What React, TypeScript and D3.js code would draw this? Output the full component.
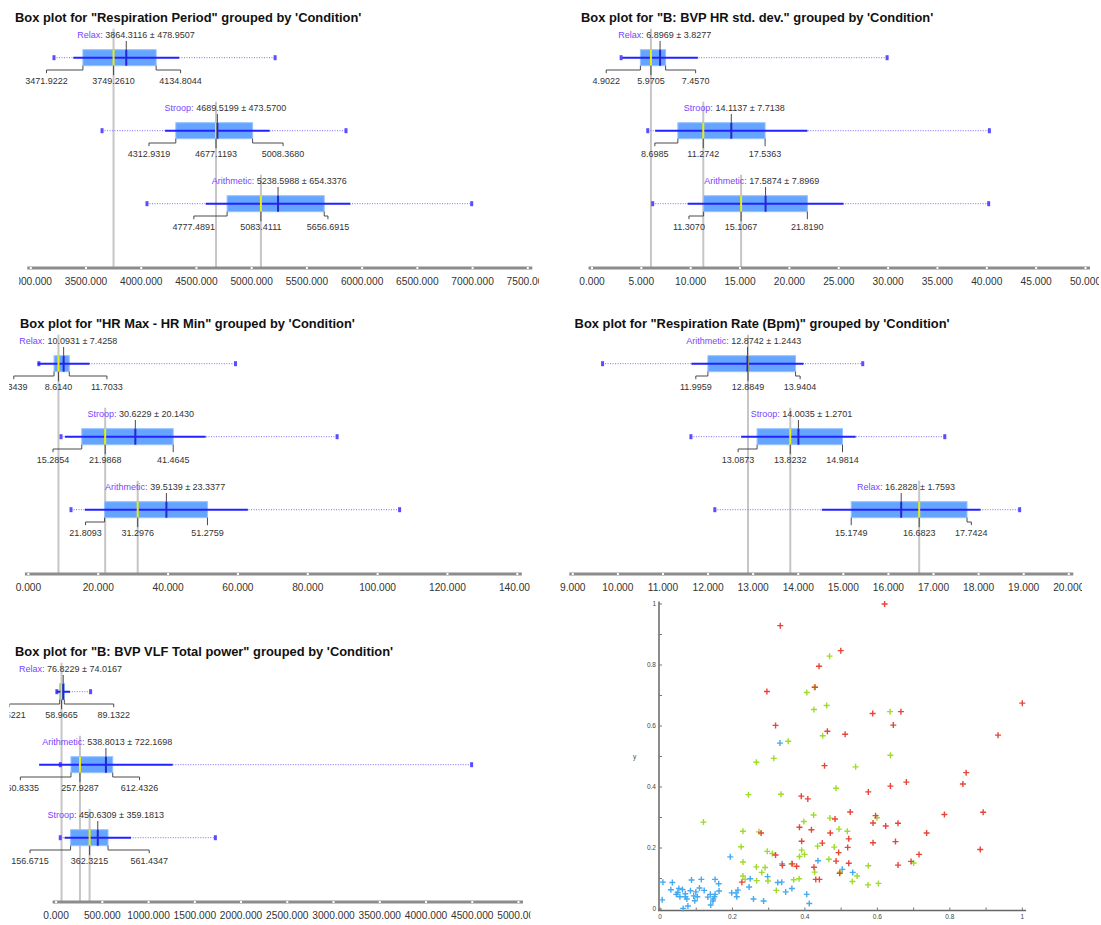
import * as d3 from "d3";

const FONT = "'Liberation Sans', Arial, sans-serif";

// ---------- "Respiration Period" ----------
const periodGroups = ["Relax", "Stroop", "Arithmetic"];
// min, q1, median, q3, max
const periodFive = [
  [3210, 3471.9222, 3749.261, 4134.8044, 5212],
  [3645, 4312.9319, 4677.1193, 5008.368, 5854],
  [4052, 4777.4891, 5083.4111, 5656.6915, 6992],
];
const periodMean = [3864.3116, 4689.5199, 5238.5988];
const periodSd = [478.9507, 473.57, 654.3376];
const periodTicks = [3000, 3500, 4000, 4500, 5000, 5500, 6000, 6500, 7000, 7500];

// ---------- "B: BVP HR std. dev." ----------
const hrSdGroups = ["Relax", "Stroop", "Arithmetic"];
const hrSdFive = [
  [2.95, 4.9022, 5.9705, 7.457, 29.9],
  [5.65, 8.6985, 11.2742, 17.5363, 40.26],
  [6.15, 11.307, 15.1067, 21.819, 40.19],
];
const hrSdMean = [6.8969, 14.1137, 17.5874];
const hrSdSd = [3.8277, 7.7138, 7.8969];
const hrSdTicks = [0, 5, 10, 15, 20, 25, 30, 35, 40, 45, 50];

// ---------- "HR Max - HR Min" ----------
const hrRangeGroups = ["Relax", "Stroop", "Arithmetic"];
const hrRangeFive = [
  [3.0, 7.3439, 8.614, 11.7033, 59.3],
  [9.35, 15.2854, 21.9868, 41.4645, 88.4],
  [12.2, 21.8093, 31.2976, 51.2759, 106.3],
];
const hrRangeMean = [10.0931, 30.6229, 39.5139];
const hrRangeSd = [7.4258, 20.143, 23.3377];
const hrRangeTicks = [0, 20, 40, 60, 80, 100, 120, 140];

// ---------- "Respiration Rate (Bpm)" ----------
const rateGroups = ["Arithmetic", "Stroop", "Relax"];
const rateFive = [
  [9.66, 11.9959, 12.8849, 13.9404, 15.43],
  [11.62, 13.0873, 13.8232, 14.9814, 17.25],
  [12.15, 15.1749, 16.6823, 17.7424, 18.91],
];
const rateMean = [12.8742, 14.0035, 16.2828];
const rateSd = [1.2443, 1.2701, 1.7593];
const rateTicks = [9, 10, 11, 12, 13, 14, 15, 16, 17, 18, 19, 20];

// ---------- "B: BVP VLF Total power" ----------
const vlfGroups = ["Relax", "Arithmetic", "Stroop"];
const vlfFive = [
  [8, 38.5221, 58.9665, 89.1322, 373],
  [45.6, 160.8335, 257.9287, 612.4326, 4493],
  [45, 156.6715, 362.3215, 561.4347, 1722],
];
const vlfMean = [76.8229, 538.8013, 450.6309];
const vlfSd = [74.0167, 722.1698, 359.1813];
const vlfTicks = [0, 500, 1000, 1500, 2000, 2500, 3000, 3500, 4000, 4500, 5000];

// ---------- scatter (x, y) ----------
const scatterBlue: [number, number][] = [
  [0.331, 0.544], [0.194, 0.171], [0.436, 0.158], [0.337, 0.148], [0.503, 0.13],
  [0.532, 0.12], [0.297, 0.106], [0.249, 0.099], [0.325, 0.087], [0.336, 0.088],
  [0.008, 0.088], [0.034, 0.087], [0.087, 0.095], [0.114, 0.097], [0.152, 0.097],
  [0.162, 0.083], [0.246, 0.072], [0.03, 0.063], [0.052, 0.067], [0.062, 0.064],
  [0.084, 0.06], [0.109, 0.069], [0.122, 0.061], [0.099, 0.056], [0.049, 0.054],
  [0.07, 0.05], [0.055, 0.04], [0.07, 0.04], [0.074, 0.033], [0.093, 0.043],
  [0.103, 0.04], [0.132, 0.039], [0.139, 0.048], [0.163, 0.059], [0.152, 0.048],
  [0.15, 0.04], [0.147, 0.033], [0.146, 0.026], [0.14, 0.013], [0.096, 0.027],
  [0.077, 0.01], [0.064, 0.002], [0.006, 0.03], [0.198, 0.053], [0.21, 0.053],
  [0.215, 0.062], [0.212, 0.04], [0.258, 0.033], [0.286, 0.026], [0.347, 0.056],
  [0.364, 0.067], [0.405, 0.048], [0.412, 0.018], [0.045, 0.048],
];
const scatterGreen: [number, number][] = [
  [0.468, 0.829], [0.426, 0.727], [0.405, 0.71], [0.425, 0.654], [0.46, 0.667],
  [0.635, 0.647], [0.449, 0.568], [0.354, 0.55], [0.636, 0.504], [0.314, 0.494],
  [0.266, 0.481], [0.54, 0.466], [0.486, 0.396], [0.244, 0.375], [0.334, 0.376],
  [0.424, 0.308], [0.469, 0.298], [0.599, 0.299], [0.397, 0.287], [0.12, 0.285],
  [0.494, 0.262], [0.517, 0.255], [0.229, 0.255], [0.273, 0.253], [0.435, 0.206],
  [0.224, 0.204], [0.481, 0.203], [0.296, 0.189], [0.31, 0.182], [0.391, 0.193],
  [0.399, 0.179], [0.385, 0.172], [0.229, 0.154], [0.466, 0.163], [0.575, 0.142],
  [0.7, 0.151], [0.363, 0.148], [0.266, 0.138], [0.29, 0.136], [0.281, 0.12],
  [0.427, 0.121], [0.229, 0.108], [0.235, 0.097], [0.544, 0.108], [0.384, 0.099],
  [0.369, 0.096], [0.298, 0.092], [0.267, 0.093], [0.531, 0.09], [0.603, 0.084],
  [0.574, 0.079], [0.321, 0.061], [0.497, 0.121],
];
const scatterRed: [number, number][] = [
  [0.62, 1.0], [0.332, 0.929], [0.499, 0.847], [0.439, 0.796], [0.428, 0.727],
  [0.295, 0.713], [1.0, 0.675], [0.587, 0.641], [0.665, 0.647], [0.319, 0.602],
  [0.644, 0.603], [0.462, 0.583], [0.511, 0.573], [0.933, 0.57], [0.454, 0.47],
  [0.845, 0.447], [0.68, 0.416], [0.836, 0.41], [0.636, 0.403], [0.575, 0.384],
  [0.39, 0.37], [0.408, 0.361], [0.525, 0.318], [0.892, 0.317], [0.785, 0.31],
  [0.595, 0.306], [0.483, 0.295], [0.588, 0.282], [0.623, 0.272], [0.657, 0.281],
  [0.385, 0.268], [0.418, 0.26], [0.47, 0.249], [0.279, 0.249], [0.736, 0.249],
  [0.521, 0.23], [0.391, 0.222], [0.448, 0.216], [0.588, 0.217], [0.65, 0.221],
  [0.518, 0.202], [0.884, 0.195], [0.493, 0.185], [0.319, 0.177], [0.715, 0.179],
  [0.486, 0.157], [0.693, 0.156], [0.365, 0.148], [0.521, 0.15], [0.338, 0.143],
  [0.377, 0.14], [0.657, 0.144], [0.425, 0.137], [0.496, 0.117], [0.43, 0.097],
  [0.44, 0.097], [0.226, 0.088],
];
const scatterTicks = [0, 0.2, 0.4, 0.6, 0.8, 1];

const panels = [
  { id: "period", title: "Box plot for \"Respiration Period\" grouped by 'Condition'", groups: periodGroups, five: periodFive, means: periodMean, sds: periodSd, ticks: periodTicks },
  { id: "hrsd", title: "Box plot for \"B: BVP HR std. dev.\" grouped by 'Condition'", groups: hrSdGroups, five: hrSdFive, means: hrSdMean, sds: hrSdSd, ticks: hrSdTicks },
  { id: "hrrange", title: "Box plot for \"HR Max - HR Min\" grouped by 'Condition'", groups: hrRangeGroups, five: hrRangeFive, means: hrRangeMean, sds: hrRangeSd, ticks: hrRangeTicks },
  { id: "rate", title: "Box plot for \"Respiration Rate (Bpm)\" grouped by 'Condition'", groups: rateGroups, five: rateFive, means: rateMean, sds: rateSd, ticks: rateTicks },
  { id: "vlf", title: "Box plot for \"B: BVP VLF Total power\" grouped by 'Condition'", groups: vlfGroups, five: vlfFive, means: vlfMean, sds: vlfSd, ticks: vlfTicks },
];

// where each panel sits on the page
const layout: Record<string, { x0: number; x1: number; top: number; titleX: number; clip: [number, number] }> = {
  period: { x0: 30.8, x1: 527.8, top: 0, titleX: 15, clip: [19, 539] },
  hrsd: { x0: 592, x1: 1085.5, top: 0, titleX: 581, clip: [562, 1099] },
  hrrange: { x0: 28.4, x1: 517.3, top: 306, titleX: 20, clip: [9, 530] },
  rate: { x0: 572.8, x1: 1068.8, top: 306, titleX: 574.6, clip: [556, 1082] },
  vlf: { x0: 56.1, x1: 518.5, top: 634, titleX: 15, clip: [9.5, 530.5] },
};

const LABEL = 9;
const TICK = 10.2;
const CHAR = 7.45; // spacing unit the original uses to push quartile labels apart

let ctx: CanvasRenderingContext2D | null = null;
function textWidth(s: string, size: number) {
  if (!ctx) ctx = document.createElement("canvas").getContext("2d");
  if (!ctx) return s.length * size * 0.55;
  ctx.font = `${size}px 'Liberation Sans', Arial, sans-serif`;
  return ctx.measureText(s).width;
}

const f4 = d3.format(".4f");
const f3 = d3.format(".3f");

function BoxRow({ x, y, name, s, mean, sd }: any) {
  const [mn, q1, md, q3, mx] = s;
  const labs = [f4(q1), f4(md), f4(q3)];
  const mdX = x(md);
  const q1LX = Math.min(x(q1), mdX - (CHAR / 2) * (labs[0].length + labs[1].length));
  const q3LX = Math.max(x(q3), mdX + (CHAR / 2) * (labs[1].length + labs[2].length));
  const prefix = `${name}:`;
  const meanTxt = f4(mean);
  const startX = x(mean) - textWidth(meanTxt, LABEL) / 2 - textWidth(prefix + " ", LABEL);
  const yb = y + 8;

  return (
    <g>
      {/* min-max range */}
      <line x1={x(mn)} x2={x(mx)} y1={y} y2={y} stroke="#7d6bff" strokeWidth={1} strokeDasharray="1 1.5" />
      <rect x={x(mn) - 1.5} y={y - 2.5} width={3} height={5} fill="#5a4cff" />
      <rect x={x(mx) - 1.5} y={y - 2.5} width={3} height={5} fill="#5a4cff" />

      {/* box */}
      <rect x={x(q1)} y={y - 8} width={x(q3) - x(q1)} height={16} fill="#66a5ff" stroke="#96c2ff" strokeWidth={1} />

      {/* mean +- sd */}
      <line x1={x(mean - sd)} x2={x(mean + sd)} y1={y} y2={y} stroke="#2323ff" strokeWidth={2} />

      <line x1={mdX} x2={mdX} y1={y - 8} y2={y + 8} stroke="#eeee00" strokeWidth={2} />
      <line x1={x(mean)} x2={x(mean)} y1={y - 8} y2={y + 8} stroke="#2626d0" strokeWidth={2} />

      {/* connectors */}
      <line x1={x(mean)} x2={x(mean)} y1={y - 16.7} y2={y - 8} stroke="#4a4a4a" />
      <line x1={mdX} x2={mdX} y1={yb} y2={y + 17.5} stroke="#4a4a4a" />
      <path d={`M${x(q1)},${yb}V${yb + 4.3}H${q1LX}V${yb + 7.5}`} fill="none" stroke="#4a4a4a" />
      <path d={`M${x(q3)},${yb}V${yb + 4.3}H${q3LX}V${yb + 7.5}`} fill="none" stroke="#4a4a4a" />

      {/* labels */}
      <text x={startX} y={y - 19.5} fontSize={LABEL} style={{ whiteSpace: "pre" }}>
        <tspan fill="#7744ff">{prefix}</tspan>
        <tspan fill="#333">{` ${meanTxt} ± ${f4(sd)}`}</tspan>
      </text>
      {[q1LX, mdX, q3LX].map((lx, i) => (
        <text key={i} x={lx} y={y + 26.6} fontSize={LABEL} textAnchor="middle" fill="#333">
          {labs[i]}
        </text>
      ))}
    </g>
  );
}

function BoxPanel({ p }: any) {
  const lay = layout[p.id];
  const ticks: number[] = p.ticks;
  const x = d3.scaleLinear().domain([ticks[0], ticks[ticks.length - 1]]).range([lay.x0, lay.x1]);
  const top = lay.top;
  const axisY = top + 268;
  const rowY = (i: number) => top + 57.7 + 73 * i;

  return (
    <g>
      <defs>
        <clipPath id={`clip-${p.id}`}>
          <rect x={lay.clip[0]} y={top + 24} width={lay.clip[1] - lay.clip[0]} height={275} />
        </clipPath>
      </defs>
      <text x={lay.titleX} y={top + 21.5} fontSize={12.9} fontWeight="bold" fill="#111">
        {p.title}
      </text>
      <g clipPath={`url(#clip-${p.id})`}>
        {p.five.map((s: number[], i: number) => (
          <line key={i} x1={x(s[2])} x2={x(s[2])} y1={rowY(i) - 29} y2={axisY} stroke="#c6c6c6" strokeWidth={2} />
        ))}

        {/* axis */}
        <line x1={x(ticks[0]) - 3.5} x2={x(ticks[ticks.length - 1]) + 4.5} y1={axisY} y2={axisY} stroke="#8c8c8c" strokeWidth={3} />
        {ticks.map((t) => (
          <rect key={t} x={x(t) - 1} y={axisY - 1} width={2} height={2} fill="#fff" />
        ))}
        {ticks.map((t) => (
          <text key={t} x={x(t)} y={axisY + 16.9} fontSize={TICK} textAnchor="middle" fill="#333">
            {f3(t)}
          </text>
        ))}

        {p.groups.map((g: string, i: number) => (
          <BoxRow key={g} x={x} y={rowY(i)} name={g} s={p.five[i]} mean={p.means[i]} sd={p.sds[i]} />
        ))}
      </g>
    </g>
  );
}

function Scatter() {
  const x = d3.scaleLinear().domain([0, 1]).range([660, 1022.3]);
  const y = d3.scaleLinear().domain([0, 1]).range([909, 604]);
  const minor = d3.range(0, 1.0001, 0.1);
  const series: [string, [number, number][]][] = [
    ["#46aaf0", scatterBlue],
    ["#9edb2c", scatterGreen],
    ["#e8453a", scatterRed],
  ];
  const fmt = (t: number) => (t === 0 || t === 1 ? String(t) : d3.format(".1f")(t));

  return (
    <g>
      <line x1={659} x2={659} y1={601.5} y2={911} stroke="#666" strokeWidth={1.5} />
      <line x1={658} x2={1026} y1={910.5} y2={910.5} stroke="#666" strokeWidth={1.5} />
      {minor.map((t, i) => (
        <g key={i}>
          <line x1={659} x2={662} y1={y(t)} y2={y(t)} stroke="#777" />
          <line x1={x(t)} x2={x(t)} y1={910.5} y2={907.5} stroke="#777" />
        </g>
      ))}
      {scatterTicks.map((t) => (
        <g key={t}>
          <text x={656} y={y(t) + 2.3} fontSize={6.5} textAnchor="end" fill="#444">{fmt(t)}</text>
          <text x={x(t)} y={919} fontSize={6.5} textAnchor="middle" fill="#444">{fmt(t)}</text>
        </g>
      ))}
      <text x={633} y={759} fontSize={6.5} fill="#444">y</text>
      {series.map(([c, pts]) =>
        pts.map(([a, b], i) => (
          <path key={c + i} d={`M${x(a) - 3},${y(b)}H${x(a) + 3}M${x(a)},${y(b) - 3}V${y(b) + 3}`} stroke={c} strokeWidth={1.4} fill="none" />
        ))
      )}
    </g>
  );
}

export default function App() {
  return (
    <div style={{ position: "absolute", left: 0, top: 0 }}>
      <svg width={1101} height={925} style={{ display: "block", background: "#fff" }} fontFamily={FONT}>
        {panels.map((p) => (
          <BoxPanel key={p.id} p={p} />
        ))}
        <Scatter />
      </svg>
    </div>
  );
}
